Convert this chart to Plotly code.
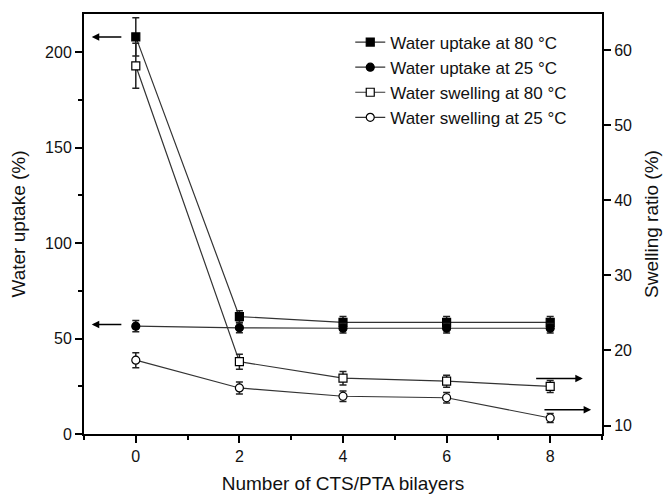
import plotly.graph_objects as go

# ---- data ----
bilayers = [0, 2, 4, 6, 8]
uptake_80 = [208, 61.5, 58.5, 58.5, 58.5]
uptake_80_err = [10, 3, 3, 3, 3]
uptake_25 = [56.5, 55.6, 55.4, 55.4, 55.4]
uptake_25_err = [3, 2.5, 2.5, 2.5, 2.5]
swelling_80 = [57.9, 18.5, 16.3, 15.9, 15.2]
swelling_80_err = [3, 1, 0.9, 0.8, 0.8]
swelling_25 = [18.7, 15.0, 13.9, 13.7, 11.0]
swelling_25_err = [1, 0.8, 0.7, 0.7, 0.6]

names = ["Water uptake at 80 °C", "Water uptake at 25 °C",
         "Water swelling at 80 °C", "Water swelling at 25 °C"]

FONT = "Liberation Sans, Arial, sans-serif"
INK = "#111111"
LINE = "#333333"

fig = go.Figure()

def add(y, err, name, symbol, fill, axis):
    fig.add_trace(go.Scatter(
        x=bilayers, y=y, name=name, mode="lines+markers", yaxis=axis,
        line=dict(color=LINE, width=1.2),
        marker=dict(symbol=symbol, size=8, color=fill,
                    line=dict(color="black", width=1.2)),
        error_y=dict(type="data", array=err, visible=True, color="#222222",
                     thickness=1.5, width=3.5),
    ))

add(uptake_80, uptake_80_err, names[0], "square", "black", "y")
add(uptake_25, uptake_25_err, names[1], "circle", "black", "y")
add(swelling_80, swelling_80_err, names[2], "square", "white", "y2")
add(swelling_25, swelling_25_err, names[3], "circle", "white", "y2")

# direction arrows (head at x, tail at ax)
arrows = [
    dict(x=-0.85, y=uptake_80[0], ax=-0.25, yref="y"),
    dict(x=-0.85, y=57.3, ax=-0.25, yref="y"),
    dict(x=8.63, y=16.25, ax=7.70, yref="y2"),
    dict(x=8.79, y=12.1, ax=7.86, yref="y2"),
]
for a in arrows:
    fig.add_annotation(x=a["x"], y=a["y"], ax=a["ax"], ay=a["y"],
                       xref="x", yref=a["yref"], axref="x", ayref=a["yref"],
                       text="", showarrow=True, arrowhead=2, arrowsize=1,
                       arrowwidth=1.5, arrowcolor="black")

axis_common = dict(showline=True, linecolor="black", linewidth=2, ticks="outside",
                   tickwidth=2, tickcolor="black", ticklen=7, showgrid=False,
                   zeroline=False, automargin=False,
                   tickfont=dict(family=FONT, size=16, color=INK))

fig.update_layout(
    width=666, height=494,
    margin=dict(l=84, r=64, t=14, b=60),
    paper_bgcolor="white", plot_bgcolor="white",
    font=dict(family=FONT, color=INK),
    showlegend=True,
    legend=dict(x=0.514, y=0.975, xanchor="left", yanchor="top",
                bgcolor="rgba(0,0,0,0)", font=dict(family=FONT, size=17, color=INK),
                tracegroupgap=0),
    xaxis=dict(range=[-1, 9], tickvals=bilayers, mirror=True,
               minor=dict(dtick=1, ticks="outside", ticklen=4, tickwidth=2, tickcolor="black"),
               title=dict(text="Number of CTS/PTA bilayers", font=dict(family=FONT, size=19, color=INK),
                          standoff=20),
               **axis_common),
    yaxis=dict(range=[0, 220], tickvals=[0, 50, 100, 150, 200],
               minor=dict(dtick=25, ticks="outside", ticklen=4, tickwidth=2, tickcolor="black"),
               title=dict(text="Water uptake (%)", font=dict(family=FONT, size=19, color=INK),
                          standoff=14),
               **axis_common),
    yaxis2=dict(range=[8.87, 64.8], tickvals=[10, 20, 30, 40, 50, 60], overlaying="y", side="right",
                title=dict(text="Swelling ratio (%)", font=dict(family=FONT, size=19, color=INK),
                           standoff=14),
                **axis_common),
)

fig.write_html("out.html")
